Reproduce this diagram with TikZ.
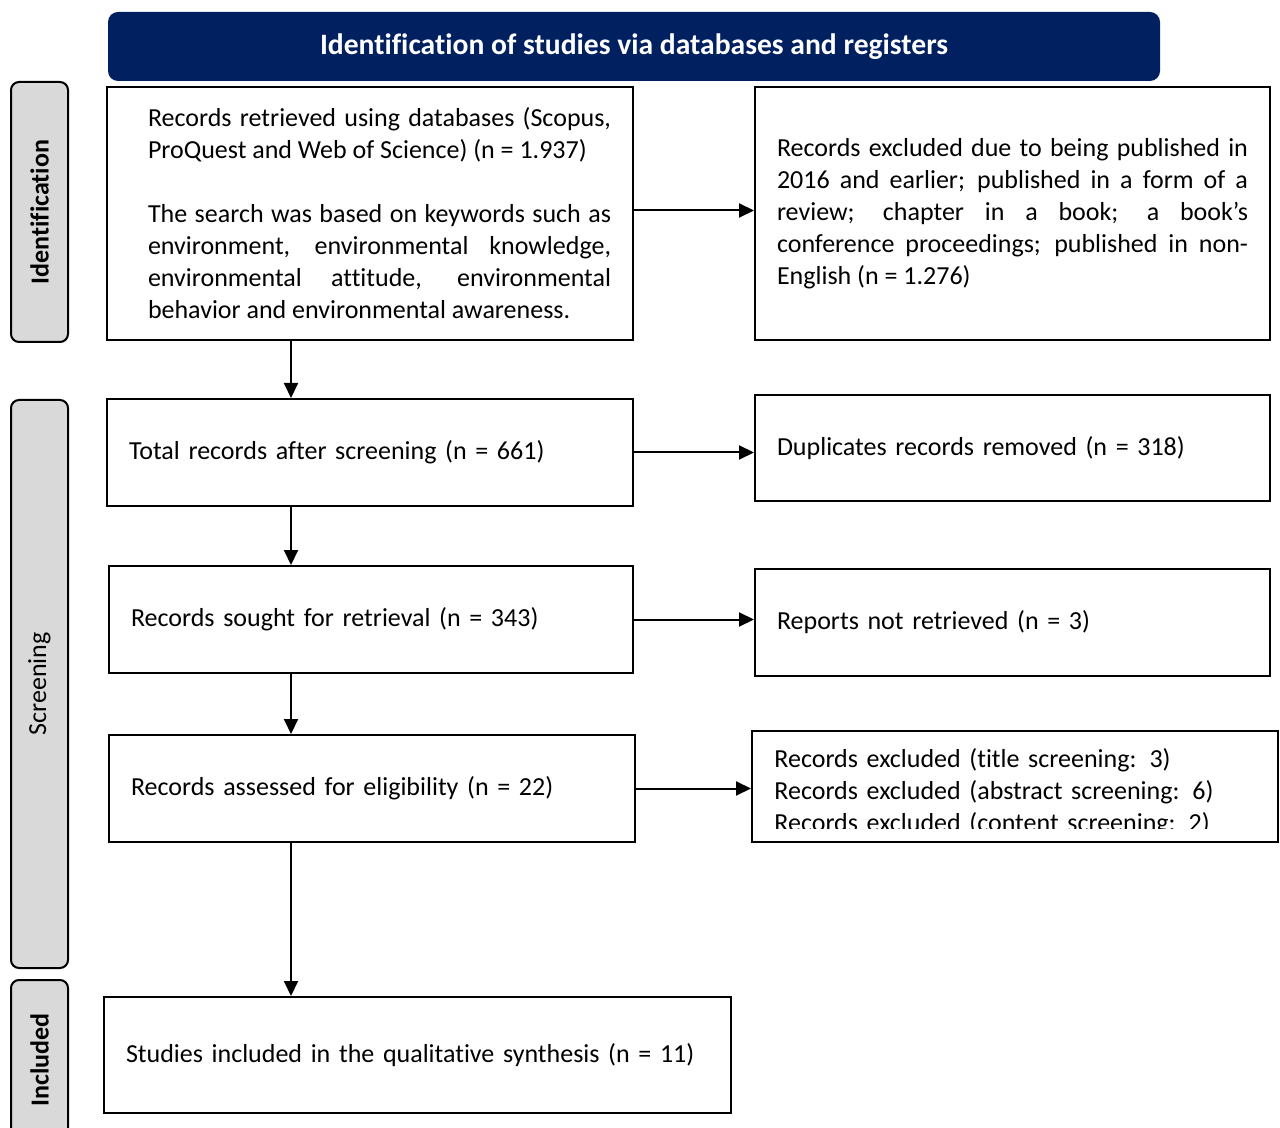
\documentclass[tikz,border=0pt]{standalone}
\usepackage{fontspec}
\setmainfont{Carlito}[Ligatures={NoCommon}]
\usepackage[svgnames]{xcolor}
\usetikzlibrary{arrows.meta}
\definecolor{headnavy}{HTML}{002060}
\definecolor{phasegray}{HTML}{D9D9D9}
\newcommand{\indentline}{\hspace*{9.5pt}}

\begin{document}
\begin{tikzpicture}[x=0.5pt, y=-0.5pt,
    stage/.style={draw, line width=1pt, inner xsep=11pt, inner ysep=0pt, align=justify, font=\fontsize{13pt}{16pt}\selectfont},
    phase/.style={draw, fill=phasegray, line width=1pt, rounded corners=4pt, rotate=90, minimum height=28.5pt, inner sep=0pt, font=\fontsize{13pt}{16pt}\selectfont},
    flow/.style={-{Triangle[length=7.5pt,width=7pt]}, line width=1pt}]
\useasboundingbox (0,0) rectangle (1280,1128);

% header and phase labels
\node[fill=headnavy, rounded corners=5pt, minimum width=526pt, minimum height=34.5pt, text=white, font=\fontsize{14.8pt}{17pt}\selectfont\bfseries] (head) at (634,46.5) {\raisebox{-2.5pt}{Identification of studies via databases and registers}};
\node[phase, minimum width=130pt, font=\fontsize{13pt}{16pt}\selectfont\bfseries] (ident) at (39.5,212) {Identification};
\node[phase, minimum width=284pt] (screen) at (39.5,684) {Screening};
\node[phase, minimum width=80pt, font=\fontsize{13pt}{16pt}\selectfont\bfseries] (incl) at (39.5,1060) {Included};

% left column
\node[stage, minimum width=263pt, text width=241pt, minimum height=126.5pt] (found) at (370,213.5)
    {\indentline Records retrieved using databases (Scopus,\linebreak\indentline ProQuest and Web of Science) (n = 1.937)\\[16pt]
    \indentline The search was based on keywords such as\linebreak\indentline environment, environmental knowledge,\linebreak\indentline environmental attitude, environmental\linebreak\indentline behavior and environmental awareness.};
\node[stage, minimum width=263pt, text width=241pt, minimum height=53.5pt, align=left] (screened) at (370,452.5) {\raisebox{-1.5pt}{Total records after screening (n = 661)}};
\node[stage, minimum width=262pt, text width=240pt, minimum height=53.5pt, align=left] (sought) at (371,619.5) {\raisebox{-1pt}{Records sought for retrieval (n = 343)}};
\node[stage, minimum width=263pt, text width=241pt, minimum height=53.5pt, align=left] (assessed) at (372,788.5) {\raisebox{-1.5pt}{Records assessed for eligibility (n = 22)}};
\node[stage, minimum width=313.5pt, text width=291.5pt, minimum height=58pt, align=left] (included) at (417.5,1055) {\raisebox{-1.5pt}{Studies included in the qualitative synthesis (n = 11)}};

% right column
\node[stage, minimum width=257.5pt, text width=235.5pt, minimum height=126.5pt] (excl) at (1012.5,213.5)
    {Records excluded due to being published in\linebreak 2016 and earlier; published in a form of a\linebreak review; chapter in a book; a book's\linebreak conference proceedings; published in non-\linebreak English (n = 1.276)};
\node[stage, minimum width=257.5pt, text width=235.5pt, minimum height=53pt, align=left] (dupl) at (1012.5,448) {\raisebox{-1.5pt}{Duplicates records removed (n = 318)}};
\node[stage, minimum width=257.5pt, text width=235.5pt, minimum height=53.5pt, align=left] (notret) at (1012.5,622.5) {\raisebox{-1pt}{Reports not retrieved (n = 3)}};
\node[stage, minimum width=263pt, minimum height=55.5pt] (reasons) at (1015,786.5) {};
\begin{scope}
\clip (reasons.north west) rectangle (1278,828);
\node[anchor=west, inner sep=0pt, text width=241pt, align=left, font=\fontsize{13pt}{16pt}\selectfont] (reasonstext) at (774,792)
    {Records excluded (title screening: 3)\\Records excluded (abstract screening: 6)\\Records excluded (content screening: 2)};
\end{scope}

% connectors
\coordinate (spine) at (291,0);
\draw[flow] (found.south -| spine) -- (screened.north -| spine);
\draw[flow] (screened.south -| spine) -- (sought.north -| spine);
\draw[flow] (sought.south -| spine) -- (assessed.north -| spine);
\draw[flow] (assessed.south -| spine) -- (included.north -| spine);
\draw[flow] ([yshift=1.5pt]found.east) -- ([yshift=1.5pt]found.east -| excl.west);
\draw[flow] (screened.east) -- (screened.east -| dupl.west);
\draw[flow] (sought.east) -- (sought.east -| notret.west);
\draw[flow] (assessed.east) -- (assessed.east -| reasons.west);
\end{tikzpicture}
\end{document}
